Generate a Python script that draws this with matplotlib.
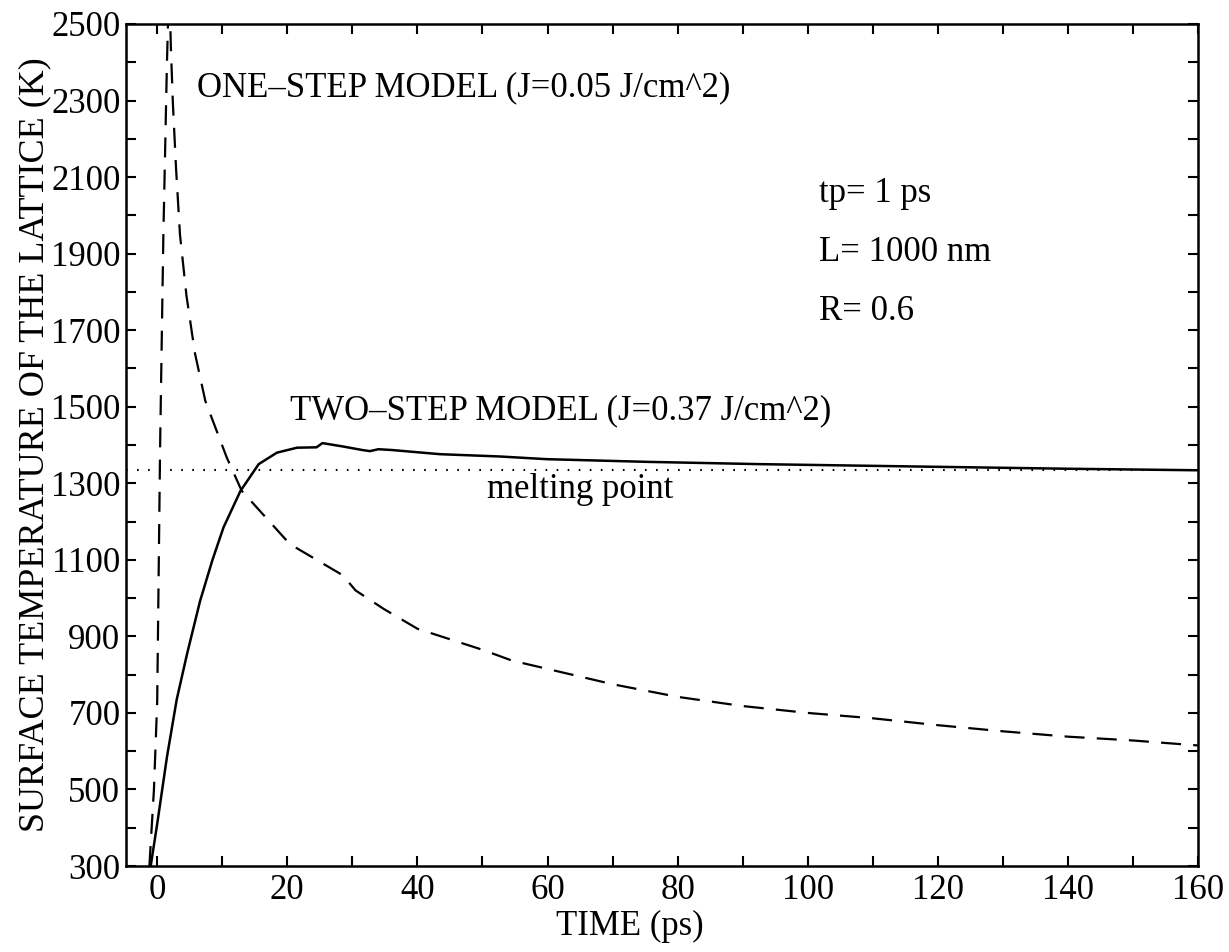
import numpy as np
import matplotlib.pyplot as plt
from matplotlib.ticker import MultipleLocator

plt.rcParams['font.family'] = 'Liberation Serif'
plt.rcParams['xtick.direction'] = 'in'
plt.rcParams['ytick.direction'] = 'in'
plt.rcParams['xtick.top'] = True
plt.rcParams['ytick.right'] = True

# one-step model (dashed), J=0.05 J/cm^2
t_one = [-1.2, -0.5, 0.0, 0.45, 0.95, 1.5, 1.85, 2.1, 2.4, 2.9, 3.5, 4.5, 5.8, 7.4,
         10.7, 13.0, 15.3, 20.4, 25.6, 28.5, 30.5, 34.8, 40, 50, 54.5, 60, 70, 80,
         90, 100, 110, 120, 130, 140, 150, 160]
T_one = [300, 500, 730, 1400, 1950, 2400, 2620, 2440, 2297, 2122, 1950, 1790, 1640, 1515,
         1367, 1280, 1237, 1141, 1089, 1060, 1020, 972, 920, 865, 837, 815, 775, 742,
         718, 700, 686, 668, 652, 638, 628, 615]

# two-step model (solid), J=0.37 J/cm^2
t_two = [-1.0, 0.0, 1.5, 3.0, 4.6, 6.6, 8.5, 10.2, 12.8, 15.6, 18.4, 21.5, 24.5, 25.4,
         28.6, 31.5, 32.7, 34.0, 36, 43.5, 52.7, 59.9, 75.3, 92.7, 120, 140, 160]
T_two = [300, 410, 585, 735, 855, 993, 1100, 1185, 1280, 1350, 1380, 1393, 1394, 1405,
         1396, 1387, 1384, 1389, 1387, 1376, 1370, 1363, 1356, 1350, 1343, 1338, 1334]

T_melt = 1336

fig = plt.figure(figsize=(12.29, 9.52), dpi=100)
ax = fig.add_axes([0.1025, 0.0903, 0.8723, 0.8845])

ax.plot(t_one, T_one, color='black', lw=1.6, ls=(0, (9, 5.5)))
ax.plot(t_two, T_two, color='black', lw=1.8)
ax.axhline(T_melt, color='black', lw=1.5, ls=(0, (0.8, 4.5)))

ax.set_xlim(-4.8, 160)
ax.set_ylim(300, 2500)
ax.xaxis.set_major_locator(MultipleLocator(20))
ax.xaxis.set_minor_locator(MultipleLocator(10))
ax.set_yticks(np.arange(300, 2501, 200))
ax.yaxis.set_minor_locator(MultipleLocator(100))
ax.tick_params(which='both', length=7, width=1.5)
ax.tick_params(axis='x', labelsize=25, pad=6)
ax.tick_params(axis='y', labelsize=25, pad=4)
for s in ax.spines.values():
    s.set_linewidth(1.8)

ax.set_xlabel('TIME (ps)', fontsize=25, labelpad=-6)
ax.xaxis.set_label_coords(0.47, -0.052)
ax.set_ylabel('SURFACE TEMPERATURE OF THE LATTICE (K)', fontsize=26, labelpad=0)

fs = 25
ax.text(6.15, 2310, 'ONE\u2013STEP MODEL (J=0.05 J/cm^2)', fontsize=fs, va='baseline')
ax.text(20.4, 1468, 'TWO\u2013STEP MODEL (J=0.37 J/cm^2)', fontsize=fs, va='baseline')
ax.text(50.7, 1262, 'melting point', fontsize=fs, va='baseline')
ax.text(101.7, 2034, 'tp= 1 ps', fontsize=fs, va='baseline')
ax.text(101.7, 1880, 'L= 1000 nm', fontsize=fs, va='baseline')
ax.text(101.7, 1726, 'R= 0.6', fontsize=fs, va='baseline')

fig.savefig('out.png', dpi=100)
